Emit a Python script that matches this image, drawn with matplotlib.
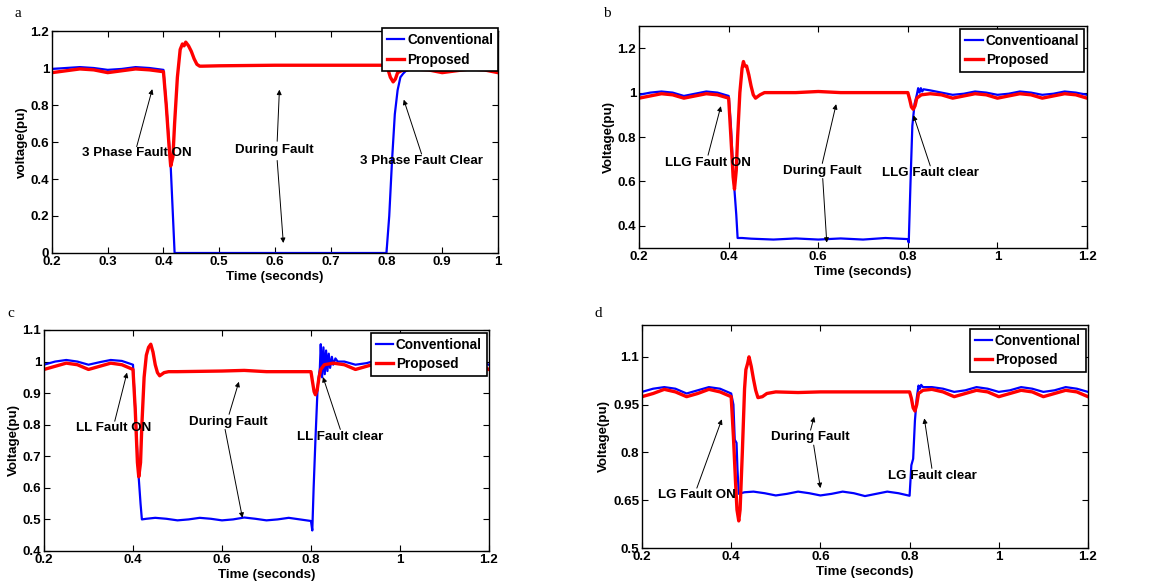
import numpy as np
import matplotlib as mp
mp.use('Agg')
import matplotlib.pyplot as plt
from matplotlib.ticker import FormatStrFormatter

plt.rc('font', family=['Liberation Sans', 'DejaVu Sans'], weight='bold', size=9.6)
plt.rc('axes', linewidth=1.0)

# ---- data: [time, voltage] ----
ripple_conv = [[0.875, 1.0], [0.9, 0.99], [0.925, 0.995], [0.95, 1.005], [0.975, 1.0],
               [1.0, 0.99], [1.025, 0.995], [1.05, 1.005], [1.075, 1.0], [1.1, 0.99],
               [1.125, 0.995], [1.15, 1.005], [1.175, 1.0], [1.2, 0.99]]
ripple_prop = [[0.875, 0.99], [0.9, 0.975], [0.925, 0.985], [0.95, 0.995], [0.975, 0.99],
               [1.0, 0.975], [1.025, 0.985], [1.05, 0.995], [1.075, 0.99], [1.1, 0.975],
               [1.125, 0.985], [1.15, 0.995], [1.175, 0.99], [1.2, 0.975]]

# a: 3 phase fault
a_conv = np.array([[0.2, 0.995], [0.225, 1.0], [0.25, 1.005], [0.275, 1.0], [0.3, 0.99],
                   [0.325, 0.995], [0.35, 1.005], [0.375, 1.0], [0.4, 0.99], [0.405, 0.8],
                   [0.41, 0.6], [0.413, 0.47], [0.42, 0.0], [0.8, 0.0], [0.805, 0.2],
                   [0.81, 0.5], [0.815, 0.75], [0.82, 0.88], [0.825, 0.95], [0.83, 0.97],
                   [0.835, 0.985], [0.84, 0.99], [0.85, 1.0]]
                  + ripple_conv[:6])
a_prop = np.array([[0.2, 0.975], [0.225, 0.985], [0.25, 0.995], [0.275, 0.99], [0.3, 0.975],
                   [0.325, 0.985], [0.35, 0.995], [0.375, 0.99], [0.4, 0.98], [0.405, 0.8],
                   [0.41, 0.58], [0.413, 0.47], [0.417, 0.52], [0.42, 0.7], [0.425, 0.95],
                   [0.43, 1.1], [0.434, 1.13], [0.437, 1.12], [0.44, 1.14], [0.445, 1.12],
                   [0.45, 1.09], [0.455, 1.05], [0.46, 1.02], [0.465, 1.01], [0.47, 1.01],
                   [0.5, 1.012], [0.6, 1.015], [0.7, 1.015], [0.8, 1.015], [0.803, 0.99],
                   [0.807, 0.95], [0.812, 0.925], [0.816, 0.94], [0.82, 0.975], [0.83, 0.99],
                   [0.85, 0.995]]
                  + ripple_prop[:6])

# b: LLG fault
b_conv = np.array([[0.2, 0.99], [0.225, 1.0], [0.25, 1.005], [0.275, 1.0], [0.3, 0.985],
                   [0.325, 0.995], [0.35, 1.005], [0.375, 1.0], [0.4, 0.985], [0.405, 0.85],
                   [0.41, 0.65], [0.413, 0.56], [0.417, 0.45], [0.42, 0.345], [0.43, 0.345],
                   [0.45, 0.342], [0.5, 0.338], [0.55, 0.343], [0.6, 0.338], [0.65, 0.343],
                   [0.7, 0.338], [0.75, 0.345], [0.8, 0.34], [0.802, 0.325], [0.806, 0.6],
                   [0.81, 0.85], [0.815, 0.95], [0.82, 0.99], [0.823, 1.02], [0.826, 1.0],
                   [0.829, 1.02], [0.832, 1.005], [0.835, 1.015], [0.85, 1.01]]
                  + ripple_conv)
b_prop = np.array([[0.2, 0.975], [0.225, 0.985], [0.25, 0.995], [0.275, 0.99], [0.3, 0.975],
                   [0.325, 0.985], [0.35, 0.995], [0.375, 0.99], [0.4, 0.975], [0.405, 0.8],
                   [0.41, 0.62], [0.413, 0.565], [0.417, 0.65], [0.42, 0.8], [0.425, 1.0],
                   [0.43, 1.11], [0.433, 1.14], [0.436, 1.12], [0.44, 1.12], [0.445, 1.08],
                   [0.45, 1.03], [0.455, 0.99], [0.46, 0.975], [0.47, 0.99], [0.48, 1.0],
                   [0.5, 1.0], [0.55, 1.0], [0.6, 1.005], [0.65, 1.0], [0.7, 1.0], [0.75, 1.0],
                   [0.8, 1.0], [0.804, 0.97], [0.808, 0.935], [0.812, 0.925], [0.816, 0.94],
                   [0.82, 0.975], [0.83, 0.99], [0.85, 0.995]]
                  + ripple_prop)

# c: LL fault
c_conv = np.array([[0.2, 0.99], [0.225, 1.0], [0.25, 1.005], [0.275, 1.0], [0.3, 0.99],
                   [0.325, 0.998], [0.35, 1.005], [0.375, 1.002], [0.4, 0.99], [0.405, 0.85],
                   [0.41, 0.7], [0.413, 0.63], [0.417, 0.55], [0.42, 0.5], [0.43, 0.502],
                   [0.45, 0.505], [0.475, 0.502], [0.5, 0.497], [0.525, 0.5], [0.55, 0.505],
                   [0.575, 0.502], [0.6, 0.497], [0.625, 0.5], [0.65, 0.506], [0.675, 0.502],
                   [0.7, 0.497], [0.725, 0.5], [0.75, 0.505], [0.775, 0.5], [0.8, 0.495],
                   [0.803, 0.465], [0.806, 0.6], [0.81, 0.75], [0.815, 0.92], [0.82, 0.98],
                   [0.822, 1.055], [0.825, 0.95], [0.828, 1.045], [0.831, 0.96], [0.834, 1.035],
                   [0.837, 0.97], [0.84, 1.025], [0.843, 0.98], [0.847, 1.015], [0.85, 0.99],
                   [0.855, 1.01], [0.86, 1.0]]
                  + ripple_conv)
c_prop = np.array([[0.2, 0.975], [0.225, 0.985], [0.25, 0.995], [0.275, 0.99], [0.3, 0.975],
                   [0.325, 0.985], [0.35, 0.995], [0.375, 0.99], [0.4, 0.975], [0.405, 0.85],
                   [0.41, 0.68], [0.413, 0.635], [0.417, 0.68], [0.42, 0.8], [0.425, 0.95],
                   [0.43, 1.02], [0.435, 1.045], [0.44, 1.055], [0.445, 1.03], [0.45, 0.99],
                   [0.455, 0.965], [0.46, 0.955], [0.47, 0.965], [0.48, 0.968], [0.5, 0.968],
                   [0.6, 0.97], [0.65, 0.972], [0.7, 0.968], [0.8, 0.968], [0.803, 0.94],
                   [0.807, 0.905], [0.81, 0.895], [0.814, 0.91], [0.818, 0.95], [0.822, 0.975],
                   [0.83, 0.99], [0.85, 0.995]]
                  + ripple_prop)

# d: LG fault
d_conv = np.array([[0.2, 0.99], [0.225, 1.0], [0.25, 1.005], [0.275, 1.0], [0.3, 0.985],
                   [0.325, 0.995], [0.35, 1.005], [0.375, 1.0], [0.4, 0.985], [0.405, 0.95],
                   [0.408, 0.84], [0.412, 0.83], [0.414, 0.75], [0.417, 0.67], [0.43, 0.675],
                   [0.45, 0.677], [0.475, 0.672], [0.5, 0.665], [0.525, 0.67], [0.55, 0.677],
                   [0.575, 0.672], [0.6, 0.665], [0.625, 0.67], [0.65, 0.677], [0.675, 0.672],
                   [0.7, 0.663], [0.725, 0.67], [0.75, 0.677], [0.775, 0.672], [0.8, 0.664],
                   [0.804, 0.76], [0.808, 0.78], [0.812, 0.9], [0.816, 0.97], [0.82, 1.01],
                   [0.823, 1.0], [0.826, 1.012], [0.83, 1.005], [0.85, 1.005]]
                  + ripple_conv)
d_prop = np.array([[0.2, 0.975], [0.225, 0.985], [0.25, 0.998], [0.275, 0.99], [0.3, 0.975],
                   [0.325, 0.985], [0.35, 0.998], [0.375, 0.99], [0.4, 0.975], [0.405, 0.85],
                   [0.41, 0.7], [0.413, 0.62], [0.417, 0.585], [0.42, 0.62], [0.425, 0.8],
                   [0.43, 1.0], [0.433, 1.06], [0.437, 1.08], [0.44, 1.1], [0.445, 1.07],
                   [0.45, 1.03], [0.455, 0.995], [0.46, 0.972], [0.47, 0.975], [0.48, 0.985],
                   [0.5, 0.99], [0.55, 0.988], [0.6, 0.99], [0.65, 0.99], [0.7, 0.99],
                   [0.75, 0.99], [0.8, 0.99], [0.804, 0.97], [0.808, 0.94], [0.812, 0.93],
                   [0.816, 0.95], [0.82, 0.985], [0.83, 0.995], [0.85, 0.998]]
                  + ripple_prop)

panels = [
    dict(letter='a', conv=a_conv, prop=a_prop, xlim=(0.2, 1.0), ylim=(0, 1.2),
         xticks=np.arange(0.2, 1.01, 0.1), yticks=np.arange(0, 1.21, 0.2),
         ylabel='voltage(pu)', conv_label='Conventional',
         pos=[0.0444, 0.5653, 0.3812, 0.3814], leg=(1.0, 1.012),
         notes=[('3 Phase Fault ON', (0.352, 0.54), [((0.352, 0.575), (0.38, 0.886))]),
                ('During Fault', (0.598, 0.559), [((0.604, 0.604), (0.608, 0.883)),
                                                 ((0.604, 0.5), (0.615, 0.054))]),
                ('3 Phase Fault Clear', (0.863, 0.499), [((0.863, 0.535), (0.831, 0.829))])]),
    dict(letter='b', conv=b_conv, prop=b_prop, xlim=(0.2, 1.2), ylim=(0.3, 1.3),
         xticks=np.arange(0.2, 1.21, 0.2), yticks=np.arange(0.4, 1.21, 0.2),
         ylabel='Voltage(pu)', conv_label='Conventioanal',
         pos=[0.5462, 0.5739, 0.3829, 0.3814], leg=(0.993, 0.987),
         notes=[('LLG Fault ON', (0.353, 0.684), [((0.354, 0.718), (0.3826, 0.939))]),
                ('During Fault', (0.608, 0.648), [((0.609, 0.681), (0.64, 0.948)),
                                                 ((0.61, 0.613), (0.619, 0.324))]),
                ('LLG Fault clear', (0.85, 0.636), [((0.85, 0.67), (0.8125, 0.898))])]),
    dict(letter='c', conv=c_conv, prop=c_prop, xlim=(0.2, 1.2), ylim=(0.4, 1.1),
         xticks=np.arange(0.2, 1.21, 0.2), yticks=np.arange(0.4, 1.11, 0.1),
         ylabel='Voltage(pu)', conv_label='Conventional',
         pos=[0.0376, 0.0533, 0.3803, 0.3797], leg=(0.995, 0.987),
         notes=[('LL Fault ON', (0.357, 0.788), [((0.359, 0.811), (0.3866, 0.965))]),
                ('During Fault', (0.6135, 0.809), [((0.616, 0.833), (0.638, 0.936)),
                                                  ((0.607, 0.785), (0.646, 0.505))]),
                ('LL Fault clear', (0.866, 0.762), [((0.866, 0.785), (0.827, 0.951))])]),
    dict(letter='d', conv=d_conv, prop=d_prop, xlim=(0.2, 1.2), ylim=(0.5, 1.2),
         xticks=np.arange(0.2, 1.21, 0.2), yticks=[0.5, 0.65, 0.8, 0.95, 1.1],
         ylabel='Voltage(pu)', conv_label='Conventional',
         pos=[0.5487, 0.0584, 0.3812, 0.3832], leg=(0.995, 0.982),
         notes=[('LG Fault ON', (0.323, 0.667), [((0.323, 0.688), (0.379, 0.904))]),
                ('During Fault', (0.578, 0.847), [((0.578, 0.87), (0.586, 0.912)),
                                                 ((0.585, 0.823), (0.6, 0.688))]),
                ('LG Fault clear', (0.8515, 0.726), [((0.85, 0.75), (0.833, 0.907))])]),
]

letter_pos = {'a': (0.0154, 0.976), 'b': (0.519, 0.976), 'c': (0.0094, 0.462), 'd': (0.511, 0.462)}

fig = plt.figure(figsize=(11.7, 5.82), dpi=100)

for p in panels:
    ax = fig.add_axes(p['pos'])
    ax.plot(p['conv'][:, 0], p['conv'][:, 1], color='#0000ff', lw=1.6, label=p['conv_label'])
    ax.plot(p['prop'][:, 0], p['prop'][:, 1], color='#ff0000', lw=2.4, label='Proposed')
    ax.set_xlim(*p['xlim'])
    ax.set_ylim(*p['ylim'])
    ax.set_xticks(p['xticks'])
    ax.set_yticks(p['yticks'])
    ax.xaxis.set_major_formatter(FormatStrFormatter('%g'))
    ax.yaxis.set_major_formatter(FormatStrFormatter('%g'))
    ax.tick_params(direction='in', top=True, right=True, length=4, width=0.8, pad=2)
    ax.set_xlabel('Time (seconds)', labelpad=2.5, fontweight='bold')
    ax.set_ylabel(p['ylabel'], labelpad=2, fontweight='bold')

    for txt, xy, arrows in p['notes']:
        ax.text(xy[0], xy[1], txt, ha='center', va='center', fontweight='bold')
        for start, end in arrows:
            ax.annotate('', xy=end, xytext=start,
                        arrowprops=dict(arrowstyle='-|>', color='k', lw=0.7,
                                        mutation_scale=7, shrinkA=0, shrinkB=0))

    leg = ax.legend(loc='upper right', bbox_to_anchor=p['leg'], fancybox=False,
                    framealpha=1, edgecolor='k', handlelength=1.3, handletextpad=0.2,
                    labelspacing=0.4, borderpad=0.35, borderaxespad=0,
                    prop=dict(weight='bold', size=9.8))
    leg.get_frame().set_linewidth(1.2)

    lx, ly = letter_pos[p['letter']]
    fig.text(lx, ly, p['letter'], family=['Liberation Serif', 'DejaVu Serif'],
             fontweight='normal', fontsize=11, ha='center', va='center')

plt.savefig('out.png', dpi=100)
